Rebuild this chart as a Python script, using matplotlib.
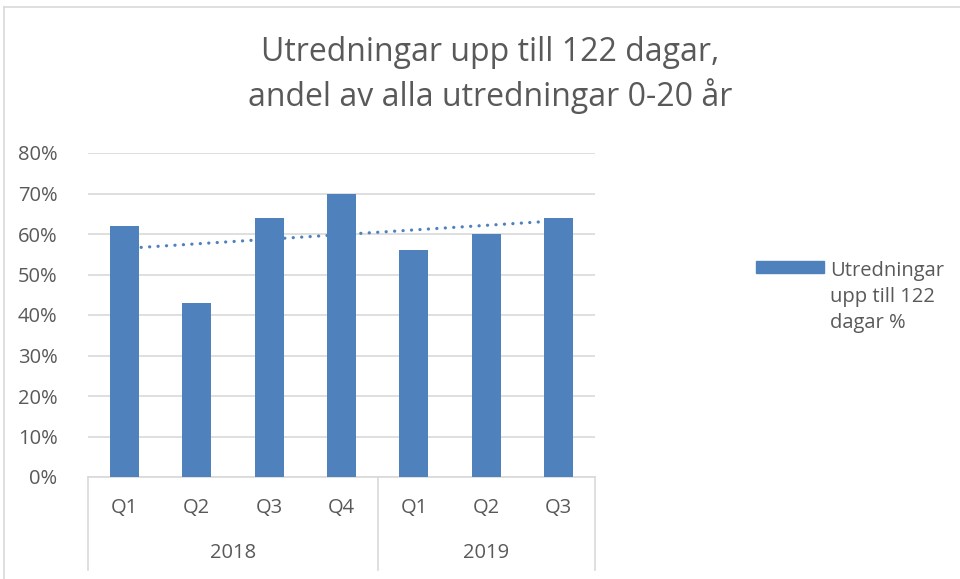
import matplotlib.pyplot as plt
import numpy as np

plt.rcParams['font.family'] = ['Open Sans', 'DejaVu Sans']

# Data
quarters = ['Q1', 'Q2', 'Q3', 'Q4', 'Q1', 'Q2', 'Q3']
years = ['2018', '2019']
year_counts = [4, 3]
values = [0.62, 0.43, 0.64, 0.70, 0.56, 0.60, 0.64]
series_name = 'Utredningar\nupp till 122\ndagar %'

bar_color = '#4f81bd'
text_color = '#595959'
grid_color = '#d9d9d9'

fig = plt.figure(figsize=(9.6, 5.79), dpi=100)
ax = fig.add_axes([88 / 960, 1 - 477 / 579, (595 - 88) / 960, (477 - 153) / 579])

x = np.arange(len(values))
ax.bar(x, values, width=0.4, color=bar_color, zorder=3)

# linear trendline
k, m = np.polyfit(x, values, 1)
ax.plot(x, k * x + m, linestyle=(0, (0.05, 2.6)), color=bar_color, linewidth=2.3,
        dash_capstyle='round', zorder=4)

ax.set_xlim(-0.5, len(values) - 0.5)
ax.set_ylim(0, 0.8)
ax.set_yticks(np.arange(0, 0.81, 0.1))
ax.set_yticklabels([f'{int(round(t * 100))}%' for t in np.arange(0, 0.81, 0.1)])
ax.tick_params(axis='y', length=0, labelsize=14.5, labelcolor=text_color, pad=22)
ax.set_xticks([])
ax.grid(axis='y', color=grid_color, linewidth=1.2, zorder=0)
for s in ['top', 'right', 'left']:
    ax.spines[s].set_visible(False)
ax.spines['bottom'].set_color(grid_color)
ax.spines['bottom'].set_linewidth(1.2)

# category axis box (quarters and years)
n = len(values)
bottom = (477 - 570) / 324
edges = [0]
for c in year_counts:
    edges.append(edges[-1] + c)
for e in edges:
    ax.plot([e / n, e / n], [0, bottom], transform=ax.transAxes, color=grid_color,
            linewidth=1.2, clip_on=False)
for i, q in enumerate(quarters):
    ax.text((i + 0.5) / n, (477 - 508) / 324, q, transform=ax.transAxes,
            ha='center', va='center', fontsize=14.5, color=text_color)
for j, yr in enumerate(years):
    ax.text((edges[j] + edges[j + 1]) / 2 / n, (477 - 553) / 324, yr, transform=ax.transAxes,
            ha='center', va='center', fontsize=14.5, color=text_color)

fig.text(490 / 960, 1 - 75 / 579, 'Utredningar upp till 122 dagar,\nandel av alla utredningar 0-20 år',
         ha='center', va='center', fontsize=23, color=text_color, linespacing=1.3)

# legend
fig.patches.append(plt.Rectangle((756 / 960, 1 - 273 / 579), 68 / 960, 12 / 579,
                                 transform=fig.transFigure, color=bar_color))
fig.text(830 / 960, 1 - 297 / 579, series_name, ha='left', va='center', fontsize=14.5,
         color=text_color, linespacing=1.4)

# outer border
fig.add_artist(plt.Line2D([4 / 960, 1], [1 - 7 / 579, 1 - 7 / 579], transform=fig.transFigure,
                          color=grid_color, linewidth=1.2))
fig.add_artist(plt.Line2D([4 / 960, 4 / 960], [0, 1 - 7 / 579], transform=fig.transFigure,
                          color=grid_color, linewidth=1.2))

plt.savefig('out.png', dpi=100)
